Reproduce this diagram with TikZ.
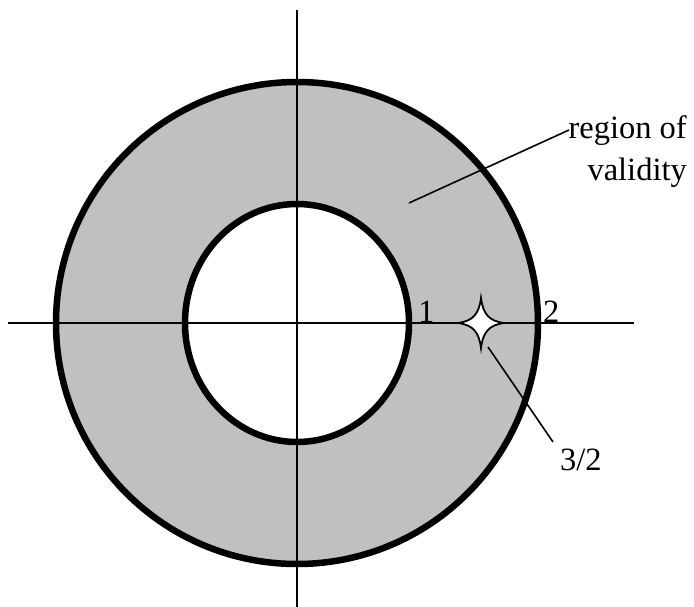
\documentclass[tikz,border=0pt]{standalone}
\usepackage{fontspec}
\setmainfont{Liberation Serif}
\definecolor{annulus}{HTML}{C0C0C0}
\begin{document}
\begin{tikzpicture}[x=1pt,y=-1pt,
  axis/.style={line width=2pt},
  ring/.style={line width=6.5pt},
  pointer/.style={line width=1.6pt},
  lbl/.style={font=\fontsize{32.5}{42}\selectfont, inner sep=0pt}]
\useasboundingbox (0,0) rectangle (694,607);
\coordinate (O) at (297,323);
% annulus fill
\fill[annulus, even odd rule] (O) circle[radius=241] (O) ellipse[x radius=112, y radius=119];
% axes
\coordinate (xl) at (8,323);
\coordinate (xr) at (634,323);
\coordinate (yt) at (297,10);
\coordinate (yb) at (297,607);
\draw[axis] (xl) -- (xr);
\draw[axis] (yt) -- (yb);
% circles
\draw[ring] (O) circle[radius=241];
\draw[ring] (O) ellipse[x radius=112, y radius=119];
% labels 1 and 2
\node[lbl, anchor=base west] (one) at (418,322) {1};
\node[lbl, anchor=base west] (two) at (543,322) {2};
% star
\draw[line width=1.8pt, fill=white, line join=miter]
  (504,323) .. controls (489,321) and (483,314) .. (481,298)
  .. controls (479,314) and (473,321) .. (458,323)
  .. controls (473,325) and (479,332) .. (481,348)
  .. controls (483,332) and (489,325) .. cycle;
\coordinate (sp) at (488,347);
\node[lbl, anchor=base west] (half) at (560,470) {3/2};
\coordinate (hp) at (553,442);
\draw[pointer] (sp) -- (hp);
% region of validity
\node[lbl, anchor=north east, align=right] (rv) at (687,115) {region of\\validity};
\coordinate (rp) at (569,130);
\coordinate (rin) at (409,203);
\draw[pointer] (rin) -- (rp);
\end{tikzpicture}
\end{document}
